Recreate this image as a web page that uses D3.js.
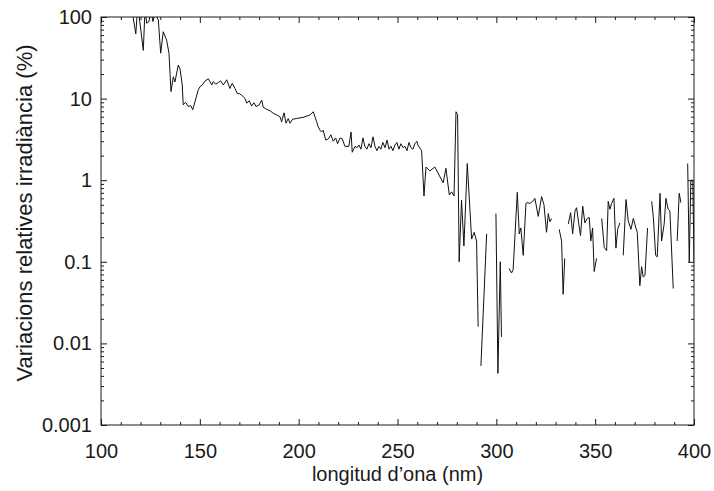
<!DOCTYPE html>
<html>
<head>
<meta charset="utf-8">
<script src="https://cdn.jsdelivr.net/npm/d3@7"></script>
<style>
  body { margin: 0; background: #fff; }
  text { font-family: "Liberation Sans", Arial, Helvetica, sans-serif; fill: #1a1a1a; }
</style>
</head>
<body>
<div id="chart"></div>
<script>
var svgWidth = 714;
var svgHeight = 491;

var margin = { top: 17, right: 20, bottom: 66, left: 101 };

var width = svgWidth - margin.left - margin.right;
var height = svgHeight - margin.top - margin.bottom;

// wavelength (nm) and relative irradiance variation (%), null = gap in the line
var wavelength = [
  115.5, 117.6, 118.6, 121.4, 122.3, 123.1, 124.3, 125.2, 126.3, 127.2, 129.0, 130.2, 131.5, 133.2, 134.4,
  135.4, 136.6, 137.4, 139.1, 140.0, 141.1, 141.6, 142.8, 144.2, 145.4, 146.4, 147.5, 149.2, 150.1, 151.5,
  152.6, 154.3, 156.0, 156.8, 158.0, 159.3, 160.5, 161.9, 163.6, 165.2, 166.4, 167.8, 168.9, 170.0, 171.2,
  172.8, 173.7, 175.0, 176.2, 177.4, 178.4, 180.1, 181.3, 182.1, 183.8, 185.5, 187.2, 188.9, 190.5, 191.4,
  192.6, 193.6, 194.7, 195.6, 197.0, 199.0, 202.3, 205.7, 207.4, 209.1, 209.9, 210.8, 211.6, 212.4, 213.7,
  215.0, 216.3, 217.5, 218.7, 219.7, 220.9, 222.1, 223.4, 225.4, 226.5, 227.1, 228.5, 229.5, 230.5, 231.5,
  232.5, 233.5, 234.5, 235.6, 236.6, 237.6, 238.6, 239.6, 240.6, 241.6, 242.6, 243.7, 244.7, 245.7, 246.7,
  247.7, 248.7, 249.7, 250.7, 251.7, 252.8, 253.8, 254.8, 255.8, 256.8, 257.8, 258.8, 259.8, 260.3, 262.2,
  263.4, 264.4, 266.4, 268.9, 271.5, 273.1, 274.5, 276.2, 277.4, 278.6, 279.6, 280.4, 281.2, 282.4, 283.6,
  285.3, 287.5, 288.8, 290.0, 290.8, 291.5, 292.2, 295.1, 297.0, 299.8, 300.8, 302.0, 302.6, 304.0, 306.4,
  307.7, 308.5, 310.6, 311.6, 312.4, 313.6, 315.0, 315.6, 317.0, 318.4, 319.5, 321.2, 322.9, 324.1, 325.4,
  326.3, 327.1, 328.0, 330.0, 331.8, 333.0, 333.8, 334.6, 335.5, 336.4, 337.6, 338.6, 339.8, 340.6, 341.8,
  342.6, 343.7, 344.8, 346.0, 347.0, 347.8, 348.7, 349.5, 350.7, 352.0, 353.3, 354.6, 355.8, 356.6, 357.5,
  358.3, 359.5, 360.5, 361.4, 362.5, 363.4, 364.2, 365.6, 366.7, 368.1, 369.3, 370.6, 371.3, 372.6, 373.5,
  374.3, 375.2, 376.5, 377.5, 378.6, 379.4, 380.6, 381.4, 382.8, 383.6, 384.9, 385.8, 386.9, 387.8, 389.5,
  390.5, 391.5, 392.5, 393.4, 395.0, 396.8, 397.6, 398.4, 399.4, 400.0
];

var variation = [
  130, 62, 140, 39, 130, 84, 88, 120, 88, 110, 92, 36, 66, 52, 36,
  12.2, 18.5, 16, 25.8, 23, 14.7, 8.4, 9.0, 8.0, 8.2, 7.3, 9.1, 12.8, 14, 15,
  16.4, 17.5, 14.7, 16.2, 15, 15.7, 16.5, 14.7, 17, 13.3, 15.4, 13.3, 11.6, 11.5, 11,
  10.1, 8.8, 9.4, 8.1, 8.9, 8.0, 8.4, 9.6, 7.8, 7.4, 7.1, 6.6, 6.3, 6.0, 5.2,
  6.7, 5.0, 5.7, 5.0, 5.6, 5.7, 5.9, 6.3, 6.9, 5.2, 4.5, 4.1, 3.9, 4.1, 3.1,
  3.2, 3.6, 3.0, 3.3, 2.8, 3.3, 3.2, 2.6, 2.6, 3.9, 2.2, 2.6, 2.5, 2.7, 2.4,
  3.3, 2.6, 2.4, 2.8, 2.5, 3.4, 2.6, 2.3, 2.6, 2.4, 2.9, 2.5, 3.1, 2.4, 2.6,
  2.3, 2.7, 2.9, 2.4, 2.8, 2.5, 2.6, 2.3, 2.9, 2.5, 2.4, 2.8, 3.0, 2.7, 2.3,
  0.64, 1.45, 1.3, 1.45, 1.1, 0.93, 1.4, 0.66, 0.72, 0.64, 6.9, 6.4, 0.1, 0.57, 0.156,
  1.6, 0.19, 0.23, 0.18, 0.016, null, 0.0053, 0.22, null, 0.39, 0.0043, 0.1, 0.012, null, 0.083,
  0.073, 0.08, 0.71, 0.22, 0.26, 0.12, 0.52, 0.53, 0.52, 0.55, 0.6, 0.36, 0.63, 0.5, 0.23,
  0.39, 0.31, 0.34, null, 0.25, 0.18, 0.04, 0.11, null, 0.29, 0.40, 0.22, 0.42, 0.46, 0.28,
  0.21, 0.48, 0.30, 0.34, 0.35, 0.18, 0.26, 0.076, 0.11, null, 0.34, 0.15, 0.137, 0.55, 0.44,
  0.52, 0.60, 0.147, 0.25, 0.30, null, 0.12, 0.58, 0.32, 0.25, 0.34, 0.26, 0.23, 0.051, 0.087,
  0.065, 0.068, 0.26, null, 0.55, 0.36, 0.12, 0.115, 0.69, 0.18, 0.29, 0.60, 0.44, 0.42, 0.047,
  null, 0.18, 0.69, 0.53, null, 1.6, 0.1, 1.0, 1.0, 0.1
];

// tick values and labels
var xTicks = [100, 150, 200, 250, 300, 350, 400];
var yTicks = [0.001, 0.01, 0.1, 1, 10, 100];
var yTickLabels = ["0.001", "0.01", "0.1", "1", "10", "100"];

var spectrum = wavelength.map((w, i) => ({ w: w, v: variation[i] }));

var svg = d3.select("#chart")
  .append("svg")
  .attr("width", svgWidth)
  .attr("height", svgHeight);

var chartGroup = svg.append("g")
  .attr("transform", `translate(${margin.left}, ${margin.top})`);

var xScale = d3.scaleLinear().domain([100, 400]).range([0, width]);
var yScale = d3.scaleLog().domain([0.001, 100]).range([height, 0]);

// minor tick positions
var xMinor = d3.range(110, 400, 10).filter(d => d % 50 !== 0);
var yMinor = [];
yTicks.slice(0, -1).forEach(function(t) {
  for (var k = 2; k <= 9; k++) yMinor.push(t * k);
});

function styleAxis(g) {
  g.select(".domain").remove();
  g.selectAll("line").attr("stroke", "#1a1a1a");
  g.selectAll("text").style("font-size", "20px").attr("fill", "#1a1a1a");
}

// bottom axis
chartGroup.append("g")
  .attr("transform", `translate(0, ${height})`)
  .call(d3.axisBottom(xScale).tickValues(xTicks).tickSize(-6).tickPadding(19).tickFormat(d3.format("d")))
  .call(styleAxis);
chartGroup.append("g")
  .attr("transform", `translate(0, ${height})`)
  .call(d3.axisBottom(xScale).tickValues(xMinor).tickSize(-3).tickFormat(""))
  .call(styleAxis);

// top axis
chartGroup.append("g")
  .call(d3.axisTop(xScale).tickValues(xTicks).tickSize(-6).tickFormat(""))
  .call(styleAxis);
chartGroup.append("g")
  .call(d3.axisTop(xScale).tickValues(xMinor).tickSize(-3).tickFormat(""))
  .call(styleAxis);

// left axis
chartGroup.append("g")
  .call(d3.axisLeft(yScale).tickValues(yTicks).tickSize(-6).tickPadding(9)
    .tickFormat((d, i) => yTickLabels[i]))
  .call(styleAxis);
chartGroup.append("g")
  .call(d3.axisLeft(yScale).tickValues(yMinor).tickSize(-3).tickFormat(""))
  .call(styleAxis);

// right axis
chartGroup.append("g")
  .attr("transform", `translate(${width}, 0)`)
  .call(d3.axisRight(yScale).tickValues(yTicks).tickSize(-6).tickFormat(""))
  .call(styleAxis);
chartGroup.append("g")
  .attr("transform", `translate(${width}, 0)`)
  .call(d3.axisRight(yScale).tickValues(yMinor).tickSize(-3).tickFormat(""))
  .call(styleAxis);

// frame
chartGroup.append("rect")
  .attr("width", width)
  .attr("height", height)
  .attr("fill", "none")
  .attr("stroke", "#1a1a1a")
  .attr("stroke-width", 1);

// clip the curve to the plot area
chartGroup.append("clipPath")
  .attr("id", "plot-clip")
  .append("rect")
  .attr("width", width)
  .attr("height", height);

var line = d3.line()
  .defined(d => d.v != null)
  .x(d => xScale(d.w))
  .y(d => yScale(d.v));

chartGroup.append("path")
  .datum(spectrum)
  .attr("clip-path", "url(#plot-clip)")
  .attr("fill", "none")
  .attr("stroke", "#111")
  .attr("stroke-width", 1)
  .attr("d", line);

// axis titles
chartGroup.append("text")
  .attr("x", width / 2)
  .attr("y", height + 56)
  .attr("text-anchor", "middle")
  .style("font-size", "20px")
  .text("longitud d\u2019ona (nm)");

chartGroup.append("text")
  .attr("transform", "rotate(-90)")
  .attr("x", -(height / 2) + 8)
  .attr("y", -69)
  .attr("text-anchor", "middle")
  .style("font-size", "22px")
  .text("Variacions relatives irradiància (%)");
</script>
</body>
</html>
